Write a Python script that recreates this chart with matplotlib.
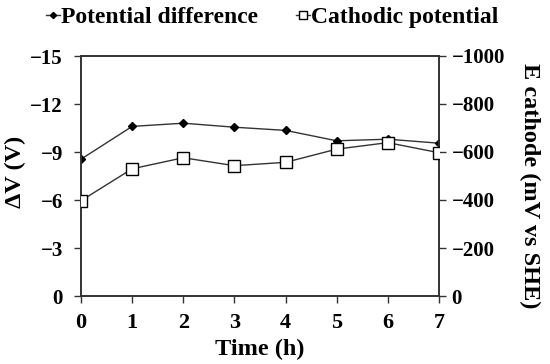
import matplotlib
matplotlib.use("Agg")
import matplotlib.pyplot as plt

# data
time_h = [0, 1, 2, 3, 4, 5, 6, 7]
delta_v = [-8.55, -10.6, -10.8, -10.55, -10.35, -9.7, -9.8, -9.55]      # V
e_cathode = [-397, -530, -576, -543, -557, -612, -639, -597]           # mV vs SHE

left_ticks = [0, -3, -6, -9, -12, -15]
right_ticks = [0, -200, -400, -600, -800, -1000]

plt.rcParams["font.family"] = ["Liberation Serif", "DejaVu Serif"]
plt.rcParams["font.weight"] = "bold"

line_col = "#333333"

fig = plt.figure(figsize=(5.5, 3.64), dpi=100)
ax = fig.add_axes([81 / 550, 68 / 364, 358 / 550, 240 / 364])
ax2 = ax.twinx()

ax.plot(time_h, delta_v, color=line_col, lw=1.0, marker="D", ms=4.5,
        mfc="black", mec="black", label="Potential difference", zorder=3)
ax2.plot(time_h, e_cathode, color=line_col, lw=1.0, marker="s", ms=8,
         mfc="white", mec="black", mew=1.0, label="Cathodic potential", zorder=4)

ax.set_xlim(0, 7)
ax.set_ylim(0, -15)
ax2.set_ylim(0, -1000)
ax.set_xticks(time_h)
ax.set_yticks(left_ticks)
ax2.set_yticks(right_ticks)

for a in (ax, ax2):
    a.tick_params(direction="out", length=5, width=1, color=line_col)
    for s in a.spines.values():
        s.set_color(line_col)
        s.set_linewidth(1.2)
ax.tick_params(axis="x", labelsize=16, pad=7)
ax.tick_params(axis="y", labelsize=15, pad=8)
ax2.tick_params(axis="y", labelsize=15, pad=4)

ax.set_xlabel("Time (h)", fontsize=17.5, fontweight="bold")
ax.set_ylabel("ΔV (V)", fontsize=17.5, fontweight="bold")
ax2.set_ylabel("E cathode (mV vs SHE)", fontsize=17.5, fontweight="bold",
               rotation=270)
ax.xaxis.label.set_va("center")
ax.yaxis.label.set_va("center")
ax2.yaxis.label.set_va("center")
ax.xaxis.set_label_coords(0.5, -0.221)
ax.yaxis.set_label_coords(-0.184, 0.517)
ax2.yaxis.set_label_coords(1.254, 0.46)

h1, l1 = ax.get_legend_handles_labels()
h2, l2 = ax2.get_legend_handles_labels()
fig.legend(h1 + h2, l1 + l2, loc="upper center", bbox_to_anchor=(0.495, 1.04),
           ncol=2, frameon=False, handlelength=0.6, handletextpad=0.05,
           columnspacing=1.6, prop={"size": 17, "weight": "bold"},
           markerscale=0.7)

fig.savefig("out.png", dpi=100)
